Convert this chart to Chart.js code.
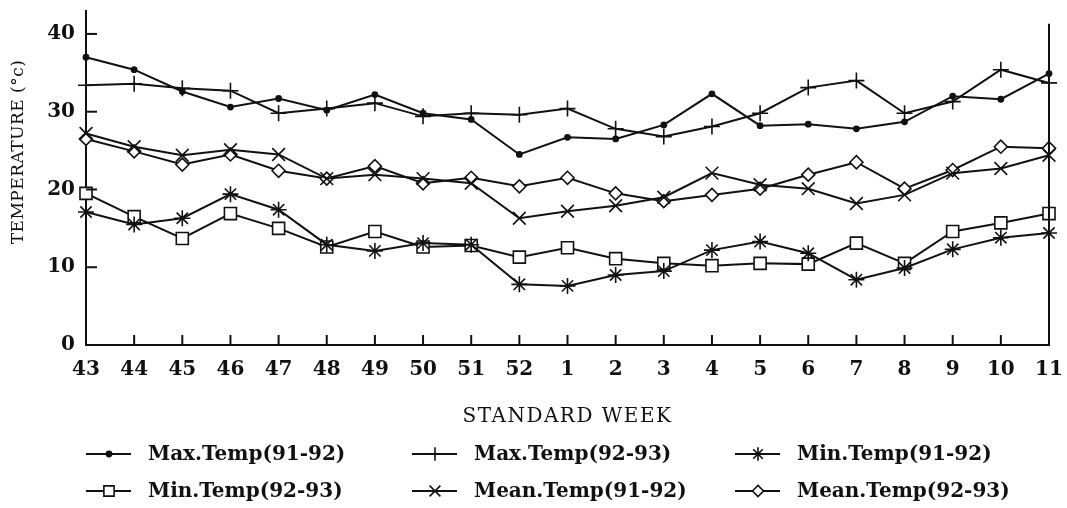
<!DOCTYPE html>
<html>
<head>
<meta charset="utf-8">
<script src="https://cdn.jsdelivr.net/npm/chart.js@4.4.1/dist/chart.umd.min.js"></script>
<style>
html,body{margin:0;padding:0;background:#fff;}
#wrap{width:1067px;height:508px;position:relative;}
</style>
</head>
<body>
<div id="wrap"><canvas id="c" width="1067" height="508"></canvas></div>
<script>
const weeks = ['43','44','45','46','47','48','49','50','51','52','1','2','3','4','5','6','7','8','9','10','11'];
const yTicks = [0, 10, 20, 30, 40];
const maxT_91_92  = [37.0, 35.4, 32.6, 30.6, 31.7, 30.2, 32.2, 29.8, 29.0, 24.5, 26.7, 26.5, 28.3, 32.3, 28.2, 28.4, 27.8, 28.7, 32.0, 31.6, 34.9];
const maxT_92_93  = [33.4, 33.6, 33.0, 32.7, 29.8, 30.4, 31.1, 29.4, 29.8, 29.6, 30.4, 27.8, 26.8, 28.1, 29.8, 33.1, 34.0, 29.8, 31.3, 35.4, 33.7];
const minT_91_92  = [17.1, 15.5, 16.3, 19.4, 17.4, 12.9, 12.1, 13.1, 12.9, 7.8, 7.6, 9.0, 9.5, 12.2, 13.3, 11.8, 8.4, 9.9, 12.3, 13.8, 14.4];
const minT_92_93  = [19.5, 16.5, 13.7, 16.9, 15.0, 12.6, 14.6, 12.6, 12.8, 11.3, 12.5, 11.1, 10.5, 10.2, 10.5, 10.4, 13.1, 10.5, 14.6, 15.7, 16.9];
const meanT_91_92 = [27.2, 25.5, 24.4, 25.1, 24.5, 21.4, 21.9, 21.4, 20.8, 16.3, 17.2, 17.9, 19.0, 22.1, 20.6, 20.1, 18.2, 19.3, 22.1, 22.7, 24.4];
const meanT_92_93 = [26.5, 24.9, 23.2, 24.5, 22.4, 21.4, 23.0, 20.8, 21.5, 20.4, 21.5, 19.5, 18.5, 19.3, 20.1, 21.9, 23.5, 20.1, 22.5, 25.5, 25.3];
const seriesLabels = ['Max.Temp(91-92)','Max.Temp(92-93)','Min.Temp(91-92)','Min.Temp(92-93)','Mean.Temp(91-92)','Mean.Temp(92-93)'];
const xTitle = 'STANDARD WEEK';
const yTitle = 'TEMPERATURE (\u00B0c)';

const INK = '#111';
const styles = [
  {pointStyle:'circle',   radius:2.6, fill:INK},
  {pointStyle:'cross',    radius:8,   fill:INK},
  {pointStyle:'star',     radius:8,   fill:INK},
  {pointStyle:'rect',     radius:8.5, fill:'#fff'},
  {pointStyle:'crossRot', radius:9,   fill:INK},
  {pointStyle:'rectRot',  radius:6.5, fill:'#fff'}
];
const seriesData = [maxT_91_92, maxT_92_93, minT_91_92, minT_92_93, meanT_91_92, meanT_92_93];

const datasets = seriesData.map((d, i) => ({
  label: seriesLabels[i],
  data: d,
  borderColor: INK,
  borderWidth: 2,
  tension: 0,
  fill: false,
  clip: false,
  pointStyle: styles[i].pointStyle,
  pointRadius: styles[i].radius,
  pointHoverRadius: styles[i].radius,
  pointBackgroundColor: styles[i].fill,
  pointBorderColor: INK,
  pointBorderWidth: 1.6
}));

const SERIF = "'DejaVu Serif', serif";

function drawMarker(ctx, style, r, fill, x, y) {
  ctx.save();
  ctx.strokeStyle = INK; ctx.fillStyle = fill; ctx.lineWidth = 1.6;
  ctx.beginPath();
  const q = Math.SQRT1_2 * r;
  switch (style) {
    case 'circle': ctx.arc(x, y, r, 0, Math.PI*2); ctx.fill(); ctx.stroke(); break;
    case 'cross': ctx.moveTo(x, y-r); ctx.lineTo(x, y+r); ctx.moveTo(x-r, y); ctx.lineTo(x+r, y); ctx.stroke(); break;
    case 'crossRot': ctx.moveTo(x-q, y-q); ctx.lineTo(x+q, y+q); ctx.moveTo(x-q, y+q); ctx.lineTo(x+q, y-q); ctx.stroke(); break;
    case 'star': ctx.moveTo(x, y-r); ctx.lineTo(x, y+r); ctx.moveTo(x-r, y); ctx.lineTo(x+r, y);
      ctx.moveTo(x-q, y-q); ctx.lineTo(x+q, y+q); ctx.moveTo(x-q, y+q); ctx.lineTo(x+q, y-q); ctx.stroke(); break;
    case 'rect': ctx.rect(x-q, y-q, 2*q, 2*q); ctx.fill(); ctx.stroke(); break;
    case 'rectRot': ctx.moveTo(x-r, y); ctx.lineTo(x, y-r); ctx.lineTo(x+r, y); ctx.lineTo(x, y+r); ctx.closePath(); ctx.fill(); ctx.stroke(); break;
  }
  ctx.restore();
}

const decor = {
  id: 'decor',
  afterDraw(chart) {
    const ctx = chart.ctx;
    const xs = chart.scales.x, ys = chart.scales.y;
    const a = chart.chartArea;
    ctx.save();
    ctx.strokeStyle = INK; ctx.lineWidth = 2;
    // inward ticks on x axis
    weeks.forEach((w, i) => {
      const x = xs.getPixelForValue(i);
      ctx.beginPath(); ctx.moveTo(x, a.bottom); ctx.lineTo(x, a.bottom - 10); ctx.stroke();
    });
    // inward ticks on y axis
    yTicks.forEach(v => {
      const y = ys.getPixelForValue(v);
      ctx.beginPath(); ctx.moveTo(a.left, y); ctx.lineTo(a.left + 11, y); ctx.stroke();
    });
    // right border line
    ctx.beginPath(); ctx.moveTo(a.right, ys.getPixelForValue(41.3)); ctx.lineTo(a.right, a.bottom + 1); ctx.stroke();
    ctx.fillStyle = INK;
    // y title
    ctx.save();
    ctx.translate(19, 152);
    ctx.rotate(-Math.PI/2);
    ctx.font = "17px " + SERIF;
    ctx.letterSpacing = '0.5px';
    ctx.textAlign = 'center'; ctx.textBaseline = 'middle';
    ctx.fillText(yTitle, 0, 0);
    ctx.restore();
    // x title
    ctx.save();
    ctx.font = "20px " + SERIF;
    ctx.letterSpacing = '1.5px';
    ctx.textAlign = 'center'; ctx.textBaseline = 'middle';
    ctx.fillText(xTitle, (a.left + a.right) / 2, 417);
    ctx.restore();
    // legend
    const colX = [148, 474, 797];
    const rowY = [454, 491];
    ctx.font = "bold 20px " + SERIF;
    ctx.textAlign = 'left'; ctx.textBaseline = 'middle';
    seriesLabels.forEach((lab, i) => {
      const cx = colX[i % 3], cy = rowY[Math.floor(i / 3)];
      ctx.beginPath(); ctx.lineWidth = 2; ctx.strokeStyle = INK;
      ctx.moveTo(cx - 62, cy); ctx.lineTo(cx - 17, cy); ctx.stroke();
      drawMarker(ctx, styles[i].pointStyle, styles[i].pointStyle === 'circle' ? 2.6 : styles[i].radius * 0.85, styles[i].fill, cx - 39, cy);
      ctx.fillStyle = INK;
      ctx.fillText(lab, cx, cy + 1);
    });
    ctx.restore();
  }
};

new Chart(document.getElementById('c'), {
  type: 'line',
  data: { labels: weeks, datasets },
  options: {
    responsive: false,
    animation: false,
    devicePixelRatio: 1,
    layout: { padding: { top: 8, right: 18, left: 0, bottom: 0 } },
    plugins: { legend: { display: false }, tooltip: { enabled: false } },
    scales: {
      x: {
        type: 'category',
        offset: false,
        grid: { display: false, drawTicks: false },
        border: { display: true, color: INK, width: 2 },
        ticks: { color: INK, font: { family: SERIF, size: 20, weight: 'bold' }, padding: 13, maxRotation: 0, autoSkip: false },
        afterFit: s => { s.height = 163; s.paddingLeft = 0; s.paddingRight = 0; }
      },
      y: {
        min: 0, max: 43,
        grid: { display: false, drawTicks: false },
        border: { display: true, color: INK, width: 2 },
        afterBuildTicks: s => { s.ticks = yTicks.map(v => ({ value: v })); },
        ticks: { color: INK, font: { family: SERIF, size: 20, weight: 'bold' }, padding: 11 },
        afterFit: s => { s.width = 86; s.paddingTop = 0; s.paddingBottom = 0; }
      }
    }
  },
  plugins: [decor]
});
</script>
</body>
</html>
